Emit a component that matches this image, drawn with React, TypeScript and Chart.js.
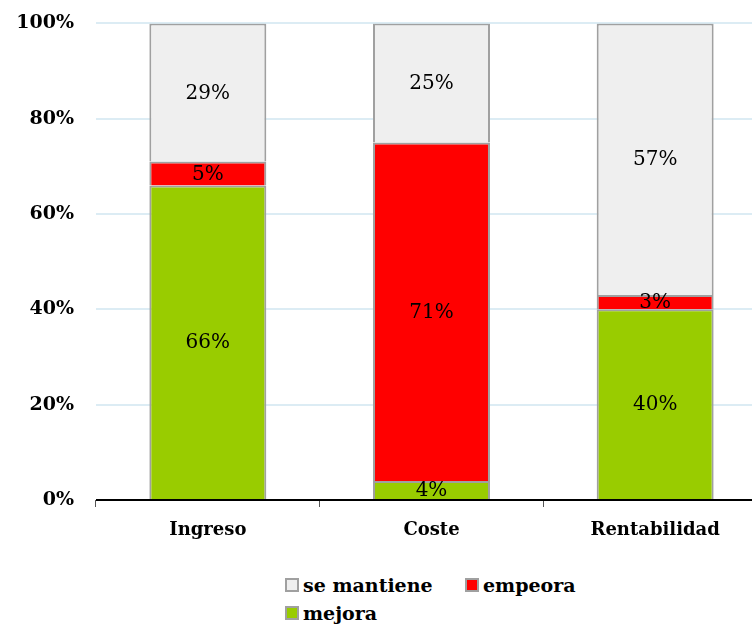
import React, { useEffect, useRef } from "react";
import { Chart, registerables } from "chart.js";

Chart.register(...registerables);

const categories = ["Ingreso", "Coste", "Rentabilidad"];
const mejora = [66, 4, 40];
const empeora = [5, 71, 3];
const seMantiene = [29, 25, 57];
const yTicks = [0, 20, 40, 60, 80, 100];

const FONT = "'DejaVu Serif', 'Liberation Serif', serif";

const labelPlugin = {
  id: "segLabels",
  afterDatasetsDraw(chart: any) {
    const ctx = chart.ctx;
    ctx.save();
    ctx.font = `20px ${FONT}`;
    ctx.fillStyle = "#000";
    ctx.textAlign = "center";
    ctx.textBaseline = "middle";
    chart.data.datasets.forEach((ds: any, di: number) => {
      const meta = chart.getDatasetMeta(di);
      meta.data.forEach((bar: any, i: number) => {
        const v = ds.data[i];
        const yc = (bar.y + bar.base) / 2;
        ctx.fillText(v + "%", bar.x, yc + 1);
      });
    });
    ctx.restore();
  },
};

const axisPlugin = {
  id: "xAxisLine",
  afterDraw(chart: any) {
    const { ctx, chartArea } = chart;
    ctx.save();
    ctx.strokeStyle = "#000";
    ctx.lineWidth = 2;
    ctx.beginPath();
    ctx.moveTo(chartArea.left, chartArea.bottom);
    ctx.lineTo(chartArea.right, chartArea.bottom);
    ctx.stroke();
    ctx.restore();
  },
};

export default function App() {
  const ref = useRef<HTMLCanvasElement>(null);
  useEffect(() => {
    const chart = new Chart(ref.current!, {
      type: "bar",
      data: {
        labels: categories,
        datasets: [
          { label: "mejora", data: mejora, backgroundColor: "#99cc00", borderColor: "#a0a0a0", borderWidth: 2 },
          { label: "empeora", data: empeora, backgroundColor: "#ff0000", borderColor: "#a0a0a0", borderWidth: 2 },
          { label: "se mantiene", data: seMantiene, backgroundColor: "#efefef", borderColor: "#a0a0a0", borderWidth: 2 },
        ],
      },
      options: {
        responsive: false,
        animation: false,
        events: [],
        layout: { padding: { top: 12, left: 0, right: 0, bottom: 0 } },
        datasets: { bar: { categoryPercentage: 1, barPercentage: 0.523 } },
        plugins: { legend: { display: false }, tooltip: { enabled: false } },
        scales: {
          x: {
            stacked: true,
            border: { display: false },
            grid: { display: true, drawOnChartArea: false, drawTicks: true, tickLength: 7, color: "#555", offset: true },
            ticks: { color: "#000", font: { family: FONT, size: 18, weight: "bold" }, padding: 13 },
            afterFit(scale: any) { scale.height = 60; },
          },
          y: {
            stacked: true,
            min: 0,
            max: 100,
            border: { display: false },
            afterBuildTicks(scale: any) { scale.ticks = yTicks.map((v) => ({ value: v })); },
            grid: {
              drawTicks: false,
              lineWidth: 2,
              color: (c: any) => (c.tick && c.tick.value === 0 ? "rgba(0,0,0,0)" : "#dcecf4"),
            },
            ticks: {
              color: "#000",
              padding: 22,
              font: { family: FONT, size: 19, weight: "bold" },
              callback: (v: any) => v + "%",
            },
            afterFit(scale: any) { scale.width = 96; },
          },
        },
      },
      plugins: [labelPlugin, axisPlugin],
    });
    return () => chart.destroy();
  }, []);

  const legendItem = (color: string, text: string) => (
    <div style={{ display: "flex", alignItems: "center" }}>
      <span style={{ display: "inline-block", width: 10, height: 10, background: color, border: "2px solid #a0a0a0", marginRight: 4 }} />
      <span>{text}</span>
    </div>
  );

  return (
    <div style={{ position: "absolute", left: 0, top: 0, width: 752, height: 628, overflow: "hidden", background: "#fff" }}>
      <canvas ref={ref} width={767} height={570} style={{ position: "absolute", left: 0, top: -10 }} />
      <div style={{ position: "absolute", left: 285, top: 571, fontFamily: FONT, fontWeight: "bold", fontSize: 19, color: "#000", lineHeight: "28px" }}>
        <div style={{ display: "flex" }}>
          <div style={{ width: 180 }}>{legendItem("#efefef", "se mantiene")}</div>
          {legendItem("#ff0000", "empeora")}
        </div>
        {legendItem("#99cc00", "mejora")}
      </div>
    </div>
  );
}
